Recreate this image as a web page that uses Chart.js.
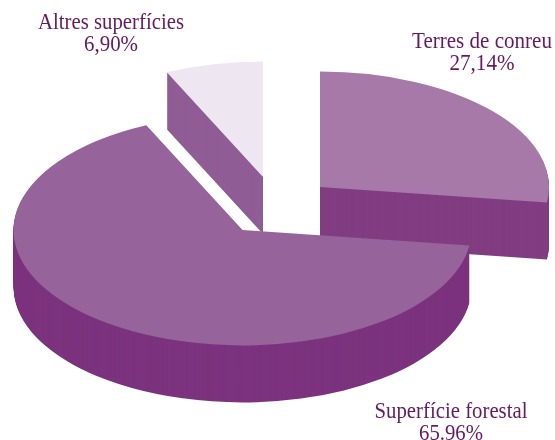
<!DOCTYPE html>
<html>
<head>
<meta charset="utf-8">
<title>Superfície</title>
<script src="https://cdn.jsdelivr.net/npm/chart.js@4/dist/chart.umd.min.js"></script>
<style>
  html, body { margin: 0; padding: 0; background: #fff; }
  canvas { display: block; }
</style>
</head>
<body>
<canvas id="pie" width="555" height="440"></canvas>
<script>
// Data
const categories = ['Terres de conreu', 'Superfície forestal', 'Altres superfícies'];
const shares = [27.14, 65.96, 6.90];
const shareLabels = ['27,14%', '65.96%', '6,90%'];

// Slice colours
const topColors = ['#a679a8', '#96649a', '#eee6f0'];
const sideColors = ['#823d82', '#7c337e', '#8f5c96'];

// Fake 3D settings
const explodeX = [42.5, -35, -14.5];
const explodeY = [-33, 10, -43];
const squash = 0.504;
const depth = 57;
const drawOrder = [0, 2, 1]; // back to front

// Label centres
const labelX = [482, 451, 111];
const labelY = [42, 412, 23];
const labelWidth = [140, 153, 146];
const valueWidth = [65, 64, 54];

// Draws one arc with another fill, the arc element reads its colour from options
function drawArc(ctx, arc, color) {
  const saved = arc.options;
  arc.options = { ...saved, backgroundColor: color };
  arc.draw(ctx);
  arc.options = saved;
}

const pie3d = {
  id: 'pie3d',
  beforeDatasetDraw(chart, args) {
    const ctx = chart.ctx;
    const arcs = args.meta.data;
    drawOrder.forEach(i => {
      const arc = arcs[i];
      // side wall first, one pixel at a time, then the top
      for (let d = depth; d >= 0; d--) {
        ctx.save();
        ctx.translate(arc.x + explodeX[i], arc.y + explodeY[i] + d);
        ctx.scale(1, squash);
        ctx.translate(-arc.x, -arc.y);
        drawArc(ctx, arc, d === 0 ? topColors[i] : sideColors[i]);
        ctx.restore();
      }
    });
    return false; // skip the normal flat pie
  },
  afterDraw(chart) {
    const ctx = chart.ctx;
    ctx.save();
    ctx.fillStyle = '#641a60';
    ctx.font = '23px "Liberation Serif"';
    ctx.textAlign = 'center';
    ctx.textBaseline = 'middle';
    categories.forEach((name, i) => {
      ctx.fillText(name, labelX[i], labelY[i], labelWidth[i]);
      ctx.fillText(shareLabels[i], labelX[i], labelY[i] + 22, valueWidth[i]);
    });
    ctx.restore();
  }
};

new Chart(document.getElementById('pie'), {
  type: 'pie',
  data: {
    labels: categories,
    datasets: [{
      data: shares,
      backgroundColor: topColors,
      borderWidth: 0,
      radius: 229
    }]
  },
  options: {
    responsive: false,
    animation: false,
    layout: { padding: 0 },
    plugins: {
      legend: { display: false },
      tooltip: { enabled: false }
    }
  },
  plugins: [pie3d]
});
</script>
</body>
</html>
